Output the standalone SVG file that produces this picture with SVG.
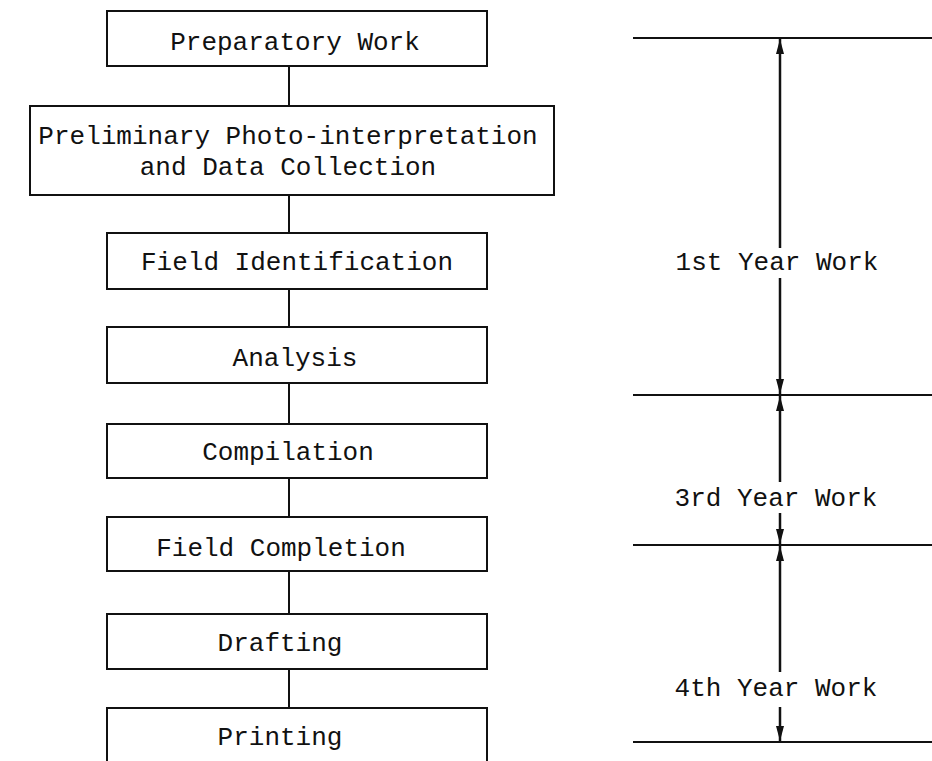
<svg xmlns="http://www.w3.org/2000/svg" width="932" height="761" viewBox="0 0 932 761">
<style>
.box{fill:#fff;stroke:#111;stroke-width:2}
.t{font-family:"Liberation Mono","Courier New",monospace;font-size:26px;fill:#111;text-anchor:middle}
.ln{stroke:#111;stroke-width:2;fill:none}
.ar{stroke:#111;stroke-width:2.5;fill:none;marker-end:url(#ah)}
</style>
<defs>
<marker id="ah" markerUnits="userSpaceOnUse" markerWidth="15" markerHeight="8" viewBox="0 0 15 8" refX="15" refY="4" orient="auto">
<path d="M0,0 L15,4 L0,8 z" fill="#111"/>
</marker>
</defs>
<rect width="932" height="761" fill="#fff"/>
<g id="connectors">
<line class="ln" x1="289" y1="66" x2="289" y2="106"/>
<line class="ln" x1="289" y1="195" x2="289" y2="233"/>
<line class="ln" x1="289" y1="289" x2="289" y2="327"/>
<line class="ln" x1="289" y1="383" x2="289" y2="424"/>
<line class="ln" x1="289" y1="478" x2="289" y2="517"/>
<line class="ln" x1="289" y1="571" x2="289" y2="614"/>
<line class="ln" x1="289" y1="669" x2="289" y2="708"/>
</g>
<g id="n1"><rect class="box" x="107" y="11" width="380" height="55"/><text class="t" x="295" y="50">Preparatory Work</text></g>
<g id="n2"><rect class="box" x="30" y="106" width="524" height="89"/><text class="t" x="288" y="144">Preliminary Photo-interpretation</text><text class="t" x="288" y="175">and Data Collection</text></g>
<g id="n3"><rect class="box" x="107" y="233" width="380" height="56"/><text class="t" x="297" y="270">Field Identification</text></g>
<g id="n4"><rect class="box" x="107" y="327" width="380" height="56"/><text class="t" x="295" y="366">Analysis</text></g>
<g id="n5"><rect class="box" x="107" y="424" width="380" height="54"/><text class="t" x="288" y="460">Compilation</text></g>
<g id="n6"><rect class="box" x="107" y="517" width="380" height="54"/><text class="t" x="281" y="556">Field Completion</text></g>
<g id="n7"><rect class="box" x="107" y="614" width="380" height="55"/><text class="t" x="280" y="651">Drafting</text></g>
<g id="n8"><rect class="box" x="107" y="708" width="380" height="60"/><text class="t" x="280" y="745">Printing</text></g>
<g id="timeline">
<line class="ln" x1="633" y1="38" x2="932" y2="38"/>
<line class="ln" x1="633" y1="395" x2="932" y2="395"/>
<line class="ln" x1="633" y1="545" x2="932" y2="545"/>
<line class="ln" x1="633" y1="742" x2="932" y2="742"/>
<line class="ar" x1="780" y1="248" x2="780" y2="39"/>
<line class="ar" x1="780" y1="278" x2="780" y2="394"/>
<line class="ar" x1="780" y1="482" x2="780" y2="396"/>
<line class="ar" x1="780" y1="513" x2="780" y2="544"/>
<line class="ar" x1="780" y1="672" x2="780" y2="546"/>
<line class="ar" x1="780" y1="707" x2="780" y2="741"/>
<text class="t" x="777" y="270">1st Year Work</text>
<text class="t" x="776" y="506">3rd Year Work</text>
<text class="t" x="776" y="696">4th Year Work</text>
</g>
</svg>
